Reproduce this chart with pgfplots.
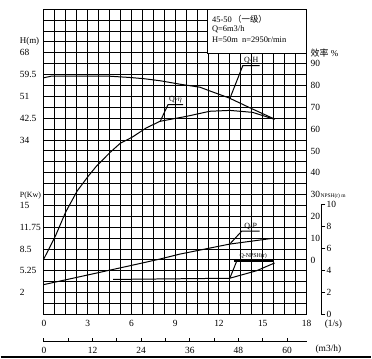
\documentclass[border=0pt]{standalone}
\usepackage{pgfplots}
\pgfplotsset{compat=1.18}
\usepackage{fontspec}
\setmainfont{Liberation Serif}
\newfontfamily\cjk{Noto Sans CJK SC}
\begin{document}
\begin{tikzpicture}[x=1bp,y=1bp]
\path (0,0) rectangle (372,360);
\pgfplotsset{base/.style={scale only axis, width=263.7bp, height=306.4bp,
  at={(43.3bp,44.3bp)}, anchor=south west, xmin=0, xmax=18, clip=false,
  major tick length=0pt, minor tick length=0pt,
  tick label style={font=\fontsize{9.5}{11}\selectfont, inner sep=0pt},
  axis line style={line width=1bp,-}}}
% ---- H axis with grid ----
\begin{axis}[base, ymin=-34, ymax=85,
  xtick={0,3,6,9,12,15,18}, minor x tick num=3,
  xticklabels={0,3,6,9,12,15,18},
  xticklabel style={yshift=-6bp},
  ytick={-34,-25.5,-17,-8.5,0,8.5,17,25.5,34,42.5,51,59.5,68,76.5,85}, minor y tick num=1,
  yticklabels={,,,,,,,,34,42.5,51,59.5,68,,},
  yticklabel style={anchor=west, xshift=-24.3bp},
  grid=both, grid style={black, line width=1bp}, minor grid style={black, line width=1bp}]
\addplot[black, line width=1bp] coordinates {
 (0,58.3) (0.5,58.9) (4.5,58.9) (5.9,58.4) (6.9,57.9) (8.0,57.1) (9.3,55.8)
 (10.7,54.6) (11.4,53.1) (12.7,50.4) (14.3,46.1) (15.8,42.2)};
\end{axis}
% ---- efficiency axis ----
\begin{axis}[base, ymin=-25, ymax=115, axis x line=none, axis y line*=right,
  ytick={0,10,20,30,40,50,60,70,80,90},
  yticklabels={0,10,20,30,40,50,60,70,80,90},
  yticklabel style={anchor=west, xshift=4bp}]
\addplot[black, line width=1bp] coordinates {
 (0,0.5) (0.8,11.1) (1.49,21.9) (2.28,31.6) (3.05,38.5) (3.6,43) (4.55,49.4)
 (5.23,53.5) (6.05,56.3) (7.0,60.5) (7.96,63.6) (9.8,65.9) (11.37,68.2)
 (12.74,68.6) (14.31,67.7) (15.81,64.5)};
\end{axis}
% ---- power axis ----
\begin{axis}[base, ymin=-1.25, ymax=44.25, axis x line=none, axis y line*=left,
  ytick={2,5.25,8.5,11.75,15}, yticklabels={2,5.25,8.5,11.75,15},
  yticklabel style={anchor=west, xshift=-24.3bp}]
\addplot[black, line width=1bp] coordinates {
 (0,3.2) (5.92,6.02) (7.96,7.01) (9.33,7.75) (12.74,9.24) (15.66,10.09)};
\end{axis}
% ---- NPSH curve ----
\begin{axis}[base, ymin=0, ymax=28, hide axis]
\addplot[black, line width=1bp] coordinates {
 (4.75,3.21) (12.74,3.32) (14.58,4.01) (15.81,4.72)};
\end{axis}
% ---- NPSH scale ----
\begin{axis}[scale only axis, width=1bp, height=110.7bp, at={(322bp,44.3bp)},
  anchor=south east, xmin=0, xmax=1, ymin=0, ymax=10,
  axis x line=none, axis y line*=right, axis line style={line width=1bp,-},
  tick align=outside, major tick length=4bp, tick style={line width=1bp, black},
  ytick={0,2,4,6,8,10}, yticklabels={0,2,4,6,8,10},
  yticklabel style={font=\fontsize{9.5}{11}\selectfont, inner sep=0pt, anchor=west, xshift=1bp}]
\end{axis}
% ---- m3/h axis ----
\begin{axis}[scale only axis, width=263.7bp, height=5bp, at={(43.3bp,16.7bp)},
  anchor=south west, xmin=0, xmax=64.8, ymin=0, ymax=1,
  axis x line*=bottom, axis y line=none, axis line style={line width=1bp,-},
  tick align=inside, major tick length=4bp, minor tick length=4bp,
  tick style={line width=1bp, black},
  xtick={0,12,24,36,48,60}, minor xtick={6,18,30,42,54},
  xticklabels={0,12,24,36,48,60},
  xticklabel style={font=\fontsize{9.5}{11}\selectfont, inner sep=0pt, yshift=-5bp}]
\end{axis}
% ---- info box ----
\fill[white] (208,306.5) rectangle (307,350.7);
\draw[line width=1bp] (208,306.5) rectangle (307,350.7);
\begin{scope}[every node/.style={anchor=west, inner sep=0pt, font=\fontsize{8.5}{10}\selectfont}]
\node at (212,340.5) {45-50\,{\cjk （一级）}};
\node at (212,330.5) {Q=6m3/h};
\node at (212,320.5) {H=50m\ \ n=2950r/min};
\end{scope}
% ---- axis titles ----
\begin{scope}[every node/.style={anchor=west, inner sep=0pt, font=\fontsize{9}{10}\selectfont}]
\node at (19,318) {H(m)};
\node at (19,164) {\fontsize{8}{9}\selectfont P(Kw)};
\node at (311,307) {{\cjk 效率} \%};
\node at (321,163.5) {\fontsize{5.5}{6}\selectfont NPSH(r) m};
\end{scope}
\node[inner sep=0pt, font=\fontsize{9.5}{11}\selectfont] at (334,34) {(1/s)};
\node[inner sep=0pt, font=\fontsize{9.5}{11}\selectfont] at (329,9) {(m3/h)};
\draw[line width=1.5bp] (0,1.6) -- (372,1.6);
% ---- curve labels ----
\begin{scope}[line width=1bp]
\draw (230,261) -- (243,294) -- (260,294);
\node[anchor=south, inner sep=1pt, font=\fontsize{8}{9}\selectfont] at (251.5,294) {Q-H};
\draw (160,238) -- (168,255) -- (183,255);
\node[anchor=south, inner sep=1pt, font=\fontsize{8}{9}\selectfont] at (175.5,255) {Q-$\eta$};
\draw (230,115) -- (242,128) -- (260,128);
\node[anchor=south, inner sep=1pt, font=\fontsize{8}{9}\selectfont] at (251,128) {Q-P};
\draw (230,80.7) -- (237,98);
\draw[line width=1.8bp] (234,98) -- (273,98);
\node[anchor=south, inner sep=1pt, font=\fontsize{6}{7}\selectfont] at (253.5,98.5) {Q-NPSH(r)};
\end{scope}
\end{tikzpicture}
\end{document}
